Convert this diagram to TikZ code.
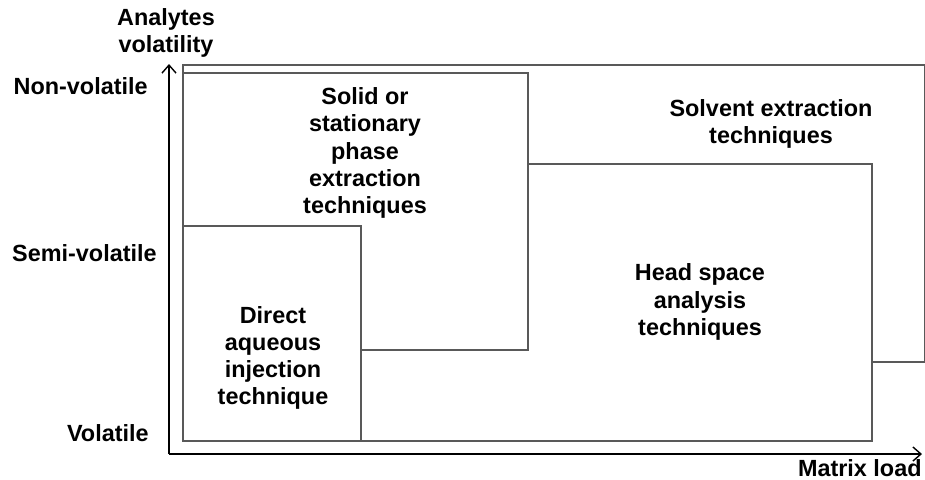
\documentclass[tikz,border=0pt]{standalone}
\usepackage{fontspec}
\setmainfont{Liberation Sans}
\usetikzlibrary{arrows,arrows.meta,positioning}

\begin{document}
\begin{tikzpicture}[x=0.5pt,y=-0.5pt,
        box/.style={draw=black!65, line width=0.8pt},
        lbl/.style={font=\fontsize{11.7}{13.6}\selectfont\bfseries, align=center, inner sep=0pt}]
        \useasboundingbox (0,0) rectangle (925,479);

        % regions
        \draw[box] (183,441) -- (183,65) -- (925,65) -- (925,362) -- (872,362);
        \draw[box] (183,73) rectangle (528,350);
        \draw[box] (528,164) -- (872,164) -- (872,441) -- (183,441);
        \draw[box, fill=white] (183,226) rectangle (361,441);

        % axes
        \coordinate (O) at (169,454);
        \coordinate (ytip) at (169,64);
        \coordinate (xtip) at (922,454);
        \draw[-{Straight Barb[length=4pt,width=7pt]}, line width=0.7pt] (O) -- (ytip);
        \draw[-{Straight Barb[length=4pt,width=7pt]}, line width=0.7pt] (O) -- (xtip);

        \node[lbl] (yname) at (166,33) {Analytes\\volatility};
        \node[lbl, anchor=east] (nonvol) at (148,86) {Non-volatile};
        \node[lbl, anchor=east] (semivol) at (157,253) {Semi-volatile};
        \node[lbl, anchor=east] (vol) at (149,433) {Volatile};
        \node[lbl, anchor=east] (xname) at (922,468) {Matrix load};

        \node[lbl] (solid) at (365,153) {Solid or\\stationary\\phase\\extraction\\techniques};
        \node[lbl] (solvent) at (771,124) {Solvent extraction\\techniques};
        \node[lbl] (head) at (700,302) {Head space\\analysis\\techniques};
        \node[lbl] (direct) at (273,358) {Direct\\aqueous\\injection\\technique};
\end{tikzpicture}
\end{document}
